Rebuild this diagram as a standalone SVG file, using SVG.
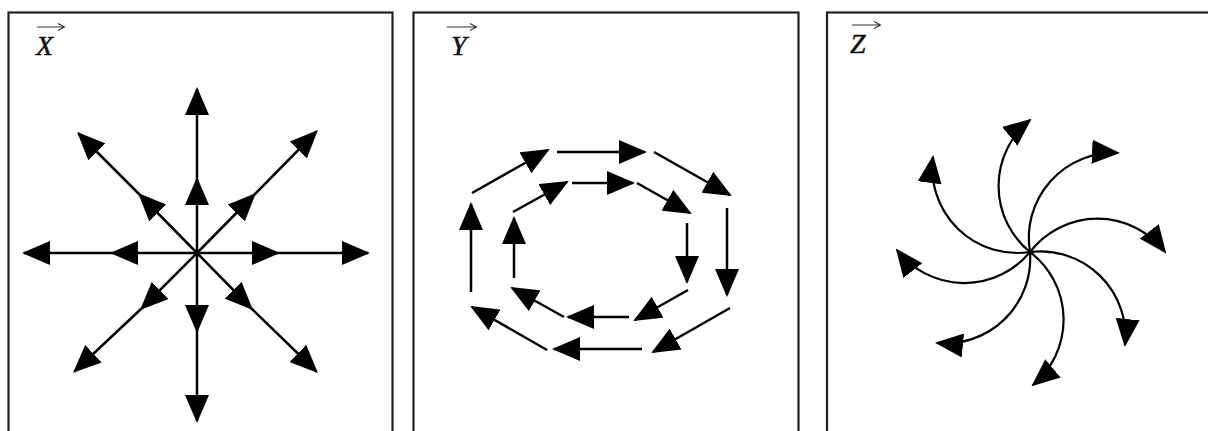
<svg xmlns="http://www.w3.org/2000/svg" width="1208" height="431" viewBox="0 0 1208 431">
<style>
.box{fill:none;stroke:#222;stroke-width:2.2}
.lbl{font-family:"Liberation Serif","Times New Roman",serif;font-style:italic;font-size:28px;fill:#111;stroke:#111;stroke-width:0.5}
.vec{fill:none;stroke:#333;stroke-width:1.1}
.ray{fill:none;stroke:#000;stroke-width:2.5;marker-mid:url(#ah);marker-end:url(#ah)}
.seg{fill:none;stroke:#000;stroke-width:2.5;marker-end:url(#ah)}
.arc{fill:none;stroke:#000;stroke-width:2.2;marker-end:url(#ah)}
</style>
<defs>
<marker id="ah" markerUnits="userSpaceOnUse" markerWidth="28" markerHeight="24" viewBox="0 0 28 24" refX="26" refY="12" orient="auto">
<path d="M0,0 L28,12 L0,24 Z" fill="#000"/>
</marker>
</defs>
<rect width="1208" height="431" fill="#fff"/>

<g id="panel-x">
<rect class="box" x="8.5" y="12.5" width="384" height="440"/>
<text class="lbl" x="36" y="55">X</text>
<path class="vec" d="M37,27 H64 M58,23.5 L64.5,27 L58,30.5"/>
</g>
<g id="panel-y">
<rect class="box" x="413.5" y="12.5" width="385" height="440"/>
<text class="lbl" x="451" y="55">Y</text>
<path class="vec" d="M447,27 H476 M470,23.5 L476.5,27 L470,30.5"/>
</g>
<g id="panel-z">
<rect class="box" x="827" y="12.5" width="400" height="440"/>
<text class="lbl" x="850" y="53">Z</text>
<path class="vec" d="M852,25 H880 M874,21.5 L880.5,25 L874,28.5"/>
</g>

<g id="connectors">
<g id="x-rays">
<polyline class="ray" points="197,253 197,179 197,89"/>
<polyline class="ray" points="197,253 197,331 197,421"/>
<polyline class="ray" points="197,253 112,253 24,253"/>
<polyline class="ray" points="197,253 278,253 368,253"/>
<polyline class="ray" points="197,253 139.5,194.5 78.5,133.5"/>
<polyline class="ray" points="197,253 254.5,194.5 316.5,131.5"/>
<polyline class="ray" points="197,253 141.5,308.5 74.5,371.5"/>
<polyline class="ray" points="197,253 251.5,308.5 316.5,371.5"/>
</g>
<g id="y-loops">
<line class="seg" x1="472" y1="193" x2="548" y2="150"/>
<line class="seg" x1="557" y1="152" x2="645" y2="152"/>
<line class="seg" x1="654" y1="152" x2="730" y2="195"/>
<line class="seg" x1="727" y1="208" x2="727" y2="295"/>
<line class="seg" x1="730" y1="308" x2="653" y2="352"/>
<line class="seg" x1="642" y1="349" x2="554" y2="349"/>
<line class="seg" x1="547" y1="350" x2="472" y2="307"/>
<line class="seg" x1="471" y1="292" x2="471" y2="204"/>
<line class="seg" x1="513" y1="212" x2="567" y2="182"/>
<line class="seg" x1="572" y1="183" x2="633" y2="183"/>
<line class="seg" x1="637" y1="183" x2="690" y2="213"/>
<line class="seg" x1="687" y1="223" x2="687" y2="282"/>
<line class="seg" x1="688" y1="290" x2="635" y2="320"/>
<line class="seg" x1="629" y1="317" x2="568" y2="317"/>
<line class="seg" x1="564" y1="317" x2="512" y2="288"/>
<line class="seg" x1="514" y1="278" x2="514" y2="218"/>
</g>
<g id="z-spiral">
<path class="arc" d="M1030,252 A85,85 0 0 1 933,157"/>
<path class="arc" d="M1030,252 A85,85 0 0 1 1030,120"/>
<path class="arc" d="M1030,252 A85,85 0 0 1 1118,153"/>
<path class="arc" d="M1030,252 A85,85 0 0 1 1165,252"/>
<path class="arc" d="M1030,252 A85,85 0 0 1 1125,345"/>
<path class="arc" d="M1030,252 A85,85 0 0 1 1033,385"/>
<path class="arc" d="M1030,252 A85,85 0 0 1 937,343"/>
<path class="arc" d="M1030,252 A85,85 0 0 1 897,250"/>
</g>
</g>
</svg>
